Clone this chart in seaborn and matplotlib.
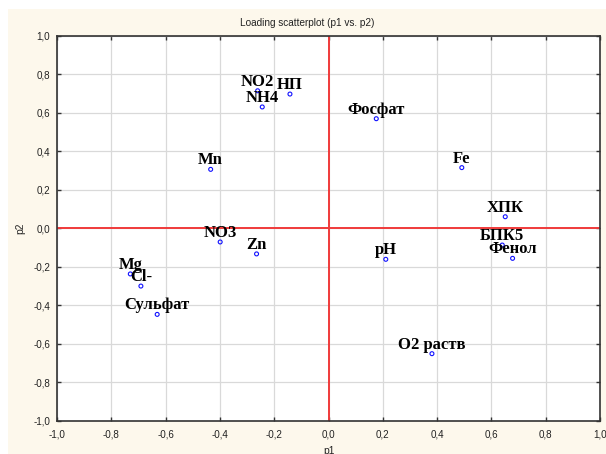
import matplotlib
matplotlib.use("Agg")
import matplotlib.pyplot as plt
from matplotlib.patches import Rectangle
from matplotlib.ticker import FixedLocator, FuncFormatter
import numpy as np
import pandas as pd
import seaborn as sns

# Variable loadings on the first two principal components
variables = ["NO2", "НП", "NH4", "Mn", "NO3", "Zn", "Фосфат", "Fe",
             "ХПК", "pH", "БПК5", "Фенол", "O2 раств", "Mg", "Cl-", "Сульфат"]
p1 = [-0.261, -0.142, -0.244, -0.434, -0.399, -0.265, 0.176, 0.491,
      0.651, 0.211, 0.640, 0.678, 0.381, -0.730, -0.691, -0.631]
p2 = [0.713, 0.696, 0.629, 0.305, -0.072, -0.134, 0.568, 0.314,
      0.059, -0.162, -0.088, -0.157, -0.652, -0.238, -0.301, -0.448]
ticks = [-1.0, -0.8, -0.6, -0.4, -0.2, 0.0, 0.2, 0.4, 0.6, 0.8, 1.0]

df = pd.DataFrame({"variable": variables, "p1": p1, "p2": p2})

sns.set_theme(style="white")
plt.rcParams["font.family"] = ["Liberation Sans", "DejaVu Sans"]

W, H = 606, 454
fig = plt.figure(figsize=(W / 100, H / 100), dpi=100, facecolor="white")
fig.patches.append(Rectangle((8 / W, 0), 1 - 8 / W, 1 - 9 / H,
                             transform=fig.transFigure, facecolor="#fdf8ec",
                             edgecolor="none", zorder=-10))

left, right, top, bottom = 57, 600, 35.5, 420.7
ax = fig.add_axes([left / W, 1 - bottom / H, (right - left) / W, (bottom - top) / H])
ax.set_facecolor("white")

ax.set_xlim(-1, 1)
ax.set_ylim(-1, 1)
ax.xaxis.set_major_locator(FixedLocator(ticks))
ax.yaxis.set_major_locator(FixedLocator(ticks))

def comma_fmt(v, _pos):
    s = f"{v:.1f}".replace(".", ",")
    return "0,0" if s == "-0,0" else s

ax.xaxis.set_major_formatter(FuncFormatter(comma_fmt))
ax.yaxis.set_major_formatter(FuncFormatter(comma_fmt))
ax.grid(True, color="#d9d9d9", linewidth=0.9, zorder=1)
ax.set_axisbelow(True)

ax.axvline(0, color="#f03a3a", linewidth=1.4, zorder=2)
ax.axhline(0, color="#f03a3a", linewidth=1.4, zorder=2)

sns.scatterplot(data=df, x="p1", y="p2", ax=ax, marker="o", s=8,
                facecolor="none", edgecolor="#1010ff", linewidth=0.8,
                zorder=4, legend=False)

for name, x, y in zip(df["variable"], df["p1"], df["p2"]):
    ax.annotate(name, (x, y), xytext=(0, 3.6), textcoords="offset points",
                ha="center", va="baseline", fontsize=12, fontweight="bold",
                family=["Liberation Serif", "DejaVu Serif"], color="black",
                zorder=5)

for side in ["left", "bottom", "top", "right"]:
    ax.spines[side].set_color("#333333")
    ax.spines[side].set_linewidth(1.2)

ax.tick_params(axis="both", which="major", direction="in", length=3,
               width=1, color="#333333", labelsize=7.1, labelcolor="#222222",
               top=True, right=True, bottom=True, left=True)
ax.tick_params(axis="x", pad=6)
ax.tick_params(axis="y", pad=5)
ax.set_xlabel("")
ax.set_ylabel("")

fig.text(307 / W, 1 - 23 / H, "Loading scatterplot (p1 vs. p2)", ha="center",
         va="center", fontsize=7.2, color="#222222")
fig.text(20 / W, 1 - 228 / H, "p2", rotation=90, ha="center", va="center",
         fontsize=7.4, color="#222222")
fig.text(328.5 / W, 1 - 451 / H, "p1", ha="center", va="center",
         fontsize=7.4, color="#222222")

fig.savefig("out.png", dpi=100, facecolor=fig.get_facecolor())
